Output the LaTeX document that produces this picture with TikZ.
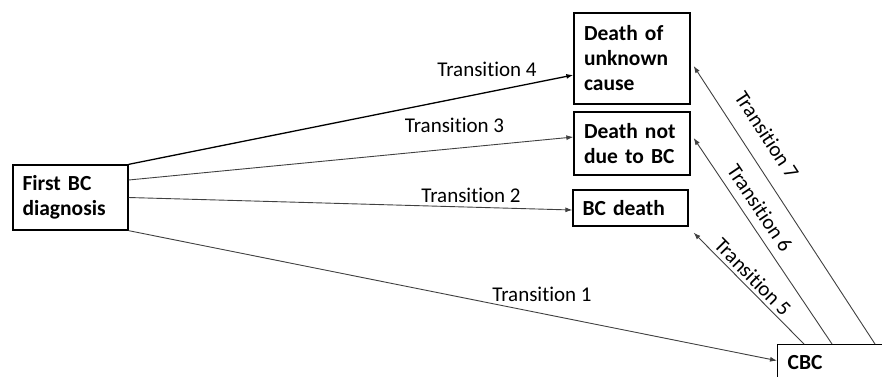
\documentclass[tikz,border=0pt]{standalone}
\usepackage{fontspec}
\setmainfont{Carlito}[Ligatures=NoCommon]
\usetikzlibrary{arrows.meta}
\begin{document}
\begin{tikzpicture}[x=1pt,y=-1pt,
  box/.style={draw=black,line width=1.3pt,inner sep=0pt,align=left,
    font=\fontsize{21.5}{25}\selectfont\bfseries},
  conn/.style={draw=black!75,line width=0.9pt,-{Latex[length=7pt,width=5pt]}},
  lbl/.style={font=\fontsize{21}{25}\selectfont,inner sep=0pt}]
\useasboundingbox (0,0) rectangle (882,376);
\clip (0,0) rectangle (882,376);
\node[box,minimum width=115pt,minimum height=65pt,text width=96pt] (fbc) at (70.5,197.5) {First BC\\diagnosis};
\node[box,minimum width=116pt,minimum height=91pt,text width=96pt] (duc) at (632,58.5) {Death of\\unknown\\cause};
\node[box,minimum width=116pt,minimum height=63pt,text width=96pt] (dnd) at (632,143.5) {Death not\\due to BC};
\node[box,minimum width=115pt,minimum height=36pt,text width=96pt] (bcd) at (630.5,208) {BC death};
\node[box,anchor=north west,minimum width=130pt,minimum height=36pt,text width=110pt] (cbc) at (777,344) {CBC};
\draw[conn,draw=black,line width=1.3pt] (fbc.north east) -- ([yshift=-16.5pt]duc.west);
\draw[conn] ([yshift=17.5pt]fbc.east) -- ([yshift=6.5pt]dnd.west);
\draw[conn] (fbc.east) -- ([yshift=-2pt]bcd.west);
\draw[conn] (fbc.south east) -- ([yshift=2pt]cbc.west);
\draw[conn] ([xshift=27pt]cbc.north west) -- ([xshift=5pt,yshift=-6pt]bcd.south east);
\draw[conn] ([xshift=55pt]cbc.north west) -- ([xshift=3pt,yshift=5.5pt]dnd.east);
\draw[conn] ([xshift=98pt]cbc.north west) -- ([xshift=3pt,yshift=-7.5pt]duc.east);
\node[lbl,anchor=base] (l4) at (487,76) {Transition 4};
\node[lbl,anchor=base] (l3) at (454.5,132) {Transition 3};
\node[lbl,anchor=base] (l2) at (471,202) {Transition 2};
\node[lbl,anchor=base] (l1) at (542,301) {Transition 1};
\node[lbl,rotate=-56.8] (l7) at (767,135) {Transition 7};
\node[lbl,rotate=-56] (l6) at (760,208) {Transition 6};
\node[lbl,rotate=-45.5] (l5) at (753,277) {Transition 5};
\end{tikzpicture}
\end{document}
